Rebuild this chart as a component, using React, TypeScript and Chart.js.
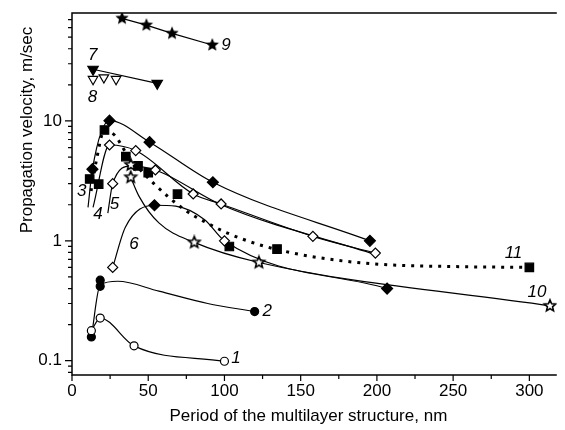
import React, { useEffect, useRef } from 'react';
import { Chart, registerables } from 'chart.js';
Chart.register(...registerables);

// ---- axes ----
const X_MIN = 0;
const X_MAX = 318;
const Y_MIN = 0.076;
const Y_MAX = 79.5;
const xMajorTicks = [0, 50, 100, 150, 200, 250, 300];
const xMinorTicks = [25, 75, 125, 175, 225, 275];
const yMajorTicks = [0.1, 1, 10];
const yTickLabels = ['0.1', '1', '10'];
const yMinorTicks = [0.08, 0.09, 0.2, 0.3, 0.4, 0.5, 0.6, 0.7, 0.8, 0.9, 2, 3, 4, 5, 6, 7, 8, 9, 20, 30, 40, 50, 60, 70];
const xTitle = 'Period of the multilayer structure, nm';
const yTitle = 'Propagation velocity, m/sec';

// ---- series 1: open circles ----
const s1X = [12.7, 18.5, 40.7, 100];
const s1Y = [0.178, 0.227, 0.133, 0.099];
// ---- series 2: filled circles ----
const s2X = [12.7, 18.5, 18.5, 119.8];
const s2Y = [0.158, 0.417, 0.47, 0.257];
const s2CurveX = [12.7, 18.5, 30, 57, 89, 119.8];
const s2CurveY = [0.158, 0.43, 0.46, 0.38, 0.3, 0.257];
// ---- series 3: filled diamonds ----
const s3X = [13.4, 24.6, 50.9, 92.4, 195.4];
const s3Y = [3.96, 10.06, 6.65, 3.08, 1.0];
const s3CurveX = [10.5, 13.4, 24.6, 50.9, 92.4, 195.4];
const s3CurveY = [1.9, 3.96, 10.06, 6.65, 3.08, 1.0];
// ---- series 4: open diamonds ----
const s4X = [24.6, 41.8, 79.5, 97.8, 158, 199];
const s4Y = [6.3, 5.66, 2.46, 2.03, 1.09, 0.79];
const s4CurveX = [13.8, 24.6, 41.8, 79.5, 97.8, 158, 199];
const s4CurveY = [1.9, 6.3, 5.66, 2.46, 2.03, 1.09, 0.79];
// ---- series 5: open diamonds ----
const s5X = [26.7, 54.7];
const s5Y = [3.0, 3.9];
const s5CurveX = [23.5, 26.7, 38.6, 54.7, 97.8, 199];
const s5CurveY = [1.7, 3.0, 4.2, 3.9, 2.0, 0.77];
// ---- series 6: diamonds ----
const s6OpenX = [26.7, 100];
const s6OpenY = [0.6, 1.0];
const s6FilledX = [54.1, 206.7];
const s6FilledY = [1.98, 0.4];
const s6CurveX = [26.7, 35, 54.1, 68, 87, 100, 206.7];
const s6CurveY = [0.6, 1.3, 1.98, 1.95, 1.5, 1.0, 0.4];
// ---- series 7: filled down triangles ----
const s7X = [13.8, 55.9];
const s7Y = [27, 20.6];
// ---- series 8: open down triangles ----
const s8X = [13.8, 20.9, 28.9];
const s8Y = [22.3, 23, 22.3];
// ---- series 9: filled stars ----
const s9X = [32.8, 48.8, 65.6, 92];
const s9Y = [71.8, 63, 53.8, 43];
// ---- series 10: open stars ----
const s10X = [38.5, 38.6, 80.2, 122.6, 313.5];
const s10Y = [3.39, 4.3, 0.97, 0.66, 0.287];
const s10CurveX = [38.5, 44, 57, 80.2, 122.6, 313.5];
const s10CurveY = [3.39, 2.35, 1.41, 0.97, 0.66, 0.287];
// ---- series 11: filled squares + dotted fit ----
const s11X = [11.6, 17.5, 21.3, 35.3, 43.3, 50, 69.2, 103.2, 134.5, 300];
const s11Y = [3.28, 2.97, 8.4, 5.04, 4.22, 3.7, 2.45, 0.897, 0.853, 0.6];
const s11CurveX = [12.5, 16, 21.3, 28, 36, 53.7, 74, 89, 102, 122.6, 145, 177.5, 207.7, 250, 300];
const s11CurveY = [2.6, 4.7, 8.4, 7.6, 5.3, 3.0, 1.81, 1.4, 1.16, 0.93, 0.79, 0.68, 0.63, 0.61, 0.6];

// ---- curve labels ----
const labelTexts = ['1', '2', '3', '4', '5', '6', '7', '8', '9', '10', '11'];
const labelX = [107.5, 128, 6.3, 17, 27.8, 40.7, 13.6, 13.4, 101, 305, 289.6];
const labelY = [0.104, 0.26, 2.57, 1.65, 2.0, 0.93, 35.5, 15.8, 43, 0.37, 0.79];

const pts = (xs: number[], ys: number[]) => xs.map((x, i) => ({ x, y: ys[i] }));

function makeStar(r: number, filled: boolean) {
  const c = document.createElement('canvas');
  const s = Math.ceil(r * 2 + 4);
  c.width = s;
  c.height = s;
  const g = c.getContext('2d')!;
  g.beginPath();
  for (let i = 0; i < 10; i++) {
    const ang = -Math.PI / 2 + (i * Math.PI) / 5;
    const rr = i % 2 === 0 ? r : r * 0.45;
    g.lineTo(s / 2 + rr * Math.cos(ang), s / 2 + rr * Math.sin(ang));
  }
  g.closePath();
  if (filled) {
    g.fillStyle = '#000';
    g.fill();
  } else {
    g.fillStyle = '#fff';
    g.fill();
    g.lineWidth = 1.6;
    g.strokeStyle = '#000';
    g.stroke();
  }
  return c;
}

const FONT = '"Liberation Sans", Arial, sans-serif';

const axesPlugin = {
  id: 'axesPlugin',
  afterDraw(chart: any) {
    const { ctx, chartArea: a, scales } = chart;
    const x = scales.x;
    const y = scales.y;
    ctx.save();
    ctx.strokeStyle = '#000';
    ctx.fillStyle = '#000';
    ctx.lineWidth = 1.5;
    ctx.beginPath();
    ctx.moveTo(a.right, a.top);
    ctx.lineTo(a.left, a.top);
    ctx.lineTo(a.left, a.bottom);
    ctx.lineTo(a.right, a.bottom);
    ctx.stroke();
    ctx.lineWidth = 1.2;
    ctx.beginPath();
    xMajorTicks.forEach((v) => {
      const px = x.getPixelForValue(v);
      ctx.moveTo(px, a.bottom);
      ctx.lineTo(px, a.bottom + 6);
    });
    xMinorTicks.forEach((v) => {
      const px = x.getPixelForValue(v);
      ctx.moveTo(px, a.bottom);
      ctx.lineTo(px, a.bottom + 4);
    });
    yMajorTicks.forEach((v) => {
      const py = y.getPixelForValue(v);
      ctx.moveTo(a.left, py);
      ctx.lineTo(a.left - 7, py);
    });
    yMinorTicks.forEach((v) => {
      const py = y.getPixelForValue(v);
      ctx.moveTo(a.left, py);
      ctx.lineTo(a.left - 4, py);
    });
    ctx.stroke();
    ctx.font = `17px ${FONT}`;
    ctx.textAlign = 'center';
    ctx.textBaseline = 'top';
    xMajorTicks.forEach((v) => {
      ctx.fillText(String(v), x.getPixelForValue(v), a.bottom + 8);
    });
    ctx.textAlign = 'right';
    ctx.textBaseline = 'middle';
    yMajorTicks.forEach((v, i) => {
      ctx.fillText(yTickLabels[i], a.left - 10, y.getPixelForValue(v));
    });
    ctx.font = `17px ${FONT}`;
    ctx.textAlign = 'center';
    ctx.textBaseline = 'middle';
    ctx.fillText(xTitle, (a.left + a.right) / 2 - 6, a.bottom + 41);
    ctx.save();
    ctx.translate(27, 130);
    ctx.rotate(-Math.PI / 2);
    ctx.fillText(yTitle, 0, 0);
    ctx.restore();
    ctx.font = `italic 17px ${FONT}`;
    ctx.textAlign = 'center';
    ctx.textBaseline = 'middle';
    labelTexts.forEach((t, i) => {
      ctx.fillText(t, x.getPixelForValue(labelX[i]), y.getPixelForValue(labelY[i]));
    });
    ctx.restore();
  },
};

export default function App() {
  const ref = useRef<HTMLCanvasElement>(null);
  useEffect(() => {
    const starFilled = makeStar(7, true);
    const starOpen = makeStar(6, false);
    const line = (xs: number[], ys: number[], extra: any = {}) => ({
      data: pts(xs, ys),
      borderColor: '#000',
      borderWidth: 1.2,
      pointRadius: 0,
      fill: false,
      cubicInterpolationMode: 'monotone',
      order: 2,
      ...extra,
    });
    const marks = (xs: number[], ys: number[], style: any, bg: string, r: number, extra: any = {}) => ({
      data: pts(xs, ys),
      showLine: false,
      pointStyle: style,
      pointRadius: r,
      pointBackgroundColor: bg,
      pointBorderColor: '#000',
      pointBorderWidth: 1.2,
      order: 0,
      ...extra,
    });
    const datasets: any[] = [
      line(s1X, s1Y),
      line(s2CurveX, s2CurveY),
      line(s3CurveX, s3CurveY),
      line(s4CurveX, s4CurveY),
      line(s5CurveX, s5CurveY),
      line(s6CurveX, s6CurveY),
      line(s7X, s7Y, { cubicInterpolationMode: 'default', tension: 0 }),
      line(s9X, s9Y, { cubicInterpolationMode: 'default', tension: 0 }),
      line(s10CurveX, s10CurveY),
      line(s11CurveX, s11CurveY, { borderWidth: 3, borderDash: [3, 6], borderCapStyle: 'butt' }),
      marks(s1X, s1Y, 'circle', '#fff', 4),
      marks(s2X, s2Y, 'circle', '#000', 4),
      marks(s3X, s3Y, 'rectRot', '#000', 5.5),
      marks(s4X, s4Y, 'rectRot', '#fff', 5),
      marks(s5X, s5Y, 'rectRot', '#fff', 5),
      marks(s6OpenX, s6OpenY, 'rectRot', '#fff', 5),
      marks(s6FilledX, s6FilledY, 'rectRot', '#000', 5.5),
      marks(s7X, s7Y, 'triangle', '#000', 6, { pointRotation: 180 }),
      marks(s8X, s8Y, 'triangle', '#fff', 5.5, { pointRotation: 180 }),
      marks(s9X, s9Y, starFilled, '#000', 7),
      marks(s10X, s10Y, starOpen, '#fff', 6),
      marks(s11X, s11Y, 'rect', '#000', 6),
    ];
    const chart = new Chart(ref.current!, {
      type: 'line',
      data: { datasets },
      options: {
        animation: false,
        responsive: false,
        events: [],
        layout: { padding: { left: 72, right: 1, top: 13, bottom: 55 } },
        plugins: { legend: { display: false }, tooltip: { enabled: false } },
        scales: {
          x: { type: 'linear', min: X_MIN, max: X_MAX, display: false },
          y: { type: 'logarithmic', min: Y_MIN, max: Y_MAX, display: false },
        },
      },
      plugins: [axesPlugin],
    } as any);
    return () => chart.destroy();
  }, []);
  return (
    <div style={{ position: 'absolute', left: 0, top: 0, width: 565, height: 430, background: '#fff' }}>
      <canvas ref={ref} width={565} height={430} />
    </div>
  );
}
